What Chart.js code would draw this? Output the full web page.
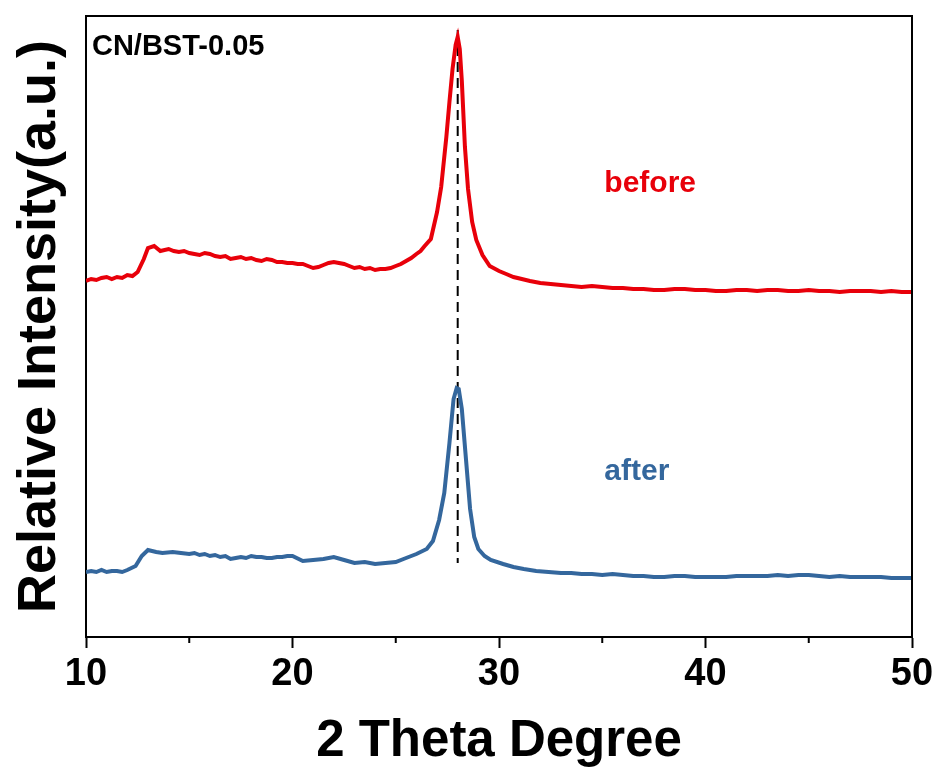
<!DOCTYPE html>
<html>
<head>
<meta charset="utf-8">
<script src="https://cdn.jsdelivr.net/npm/chart.js@4.4.0/dist/chart.umd.min.js"></script>
<style>
  body { margin: 0; background: #fff; }
  #wrap { width: 940px; height: 778px; }
</style>
</head>
<body>
<div id="wrap"><canvas id="xrd" width="940" height="778"></canvas></div>
<script>
// 2 theta positions + relative intensity
const beforeX = [10, 10.25, 10.5, 10.75, 11, 11.25, 11.5, 11.75, 12, 12.25, 12.5, 12.8, 13.0, 13.3, 13.6, 14, 14.25, 14.5, 14.75, 15, 15.25, 15.5, 15.75, 16, 16.25, 16.5, 16.75, 17, 17.25, 17.5, 17.75, 18, 18.25, 18.5, 18.75, 19, 19.25, 19.5, 19.75, 20, 20.25, 20.5, 20.75, 21, 21.25, 21.5, 21.75, 22, 22.25, 22.5, 22.75, 23, 23.25, 23.5, 23.75, 24, 24.25, 24.5, 24.75, 25, 25.25, 25.5, 25.75, 26, 26.2, 26.4, 26.7, 27.0, 27.2, 27.45, 27.6, 27.75, 27.9, 28.0, 28.1, 28.2, 28.35, 28.5, 28.7, 28.9, 29.2, 29.55, 30, 30.35, 30.7, 31.1, 31.5, 32, 32.5, 33, 33.5, 34, 34.5, 35, 35.5, 36, 36.5, 37, 37.5, 38, 38.5, 39, 39.5, 40, 40.5, 41, 41.5, 42, 42.5, 43, 43.5, 44, 44.5, 45, 45.5, 46, 46.5, 47, 47.5, 48, 48.5, 49, 49.5, 50];
const beforeY = [356, 358, 357, 359, 360, 358, 360, 359, 362, 361, 365, 378, 389, 391, 386, 388, 386, 385, 386, 384, 383, 382, 384, 383, 381, 380, 381, 378, 379, 380, 378, 379, 377, 376, 378, 377, 375, 375, 374, 374, 373, 373, 371, 369, 370, 372, 374, 375, 374, 373, 371, 369, 370, 368, 369, 367, 368, 368, 369, 371, 373, 376, 379, 383, 386, 391, 398, 425, 450, 500, 535, 568, 592, 600, 588, 556, 490, 448, 415, 397, 382, 371, 366, 363, 360, 358, 356, 354, 353, 352, 351, 350, 351, 350, 349, 349, 348, 348, 347, 347, 348, 348, 347, 347, 346, 346, 347, 347, 346, 347, 347, 346, 346, 347, 346, 346, 345, 346, 346, 346, 345, 346, 345, 345];

const afterX = [10, 10.25, 10.5, 10.75, 11, 11.25, 11.5, 11.75, 12, 12.4, 12.7, 13.0, 13.4, 13.7, 14.2, 14.6, 15, 15.25, 15.5, 15.75, 16, 16.25, 16.5, 16.75, 17, 17.25, 17.5, 17.75, 18, 18.25, 18.5, 18.75, 19, 19.25, 19.5, 19.75, 20, 20.5, 21, 21.5, 22, 22.5, 23, 23.5, 24, 24.5, 25, 25.5, 26, 26.5, 26.8, 27.1, 27.35, 27.6, 27.8, 27.95, 28.05, 28.2, 28.4, 28.6, 28.8, 29.0, 29.3, 29.6, 30.2, 30.7, 31.2, 31.8, 32.4, 33, 33.5, 34, 34.5, 35, 35.5, 36, 36.5, 37, 37.5, 38, 38.5, 39, 39.5, 40, 40.5, 41, 41.5, 42, 42.5, 43, 43.5, 44, 44.5, 45, 45.5, 46, 46.5, 47, 47.5, 48, 48.5, 49, 49.5, 50];
const afterY = [65, 66, 65, 67, 65, 66, 66, 65, 67, 71, 81, 87, 85, 84, 85, 84, 83, 84, 82, 83, 81, 82, 80, 81, 78, 79, 80, 79, 81, 80, 80, 79, 79, 80, 80, 81, 81, 76, 77, 78, 80, 77, 74, 75, 73, 74, 75, 79, 83, 88, 96, 117, 144, 194, 238, 249, 248, 228, 178, 128, 100, 88, 81, 77, 73, 70, 68, 66, 65, 64, 64, 63, 63, 62, 63, 62, 61, 61, 60, 60, 61, 61, 60, 60, 60, 60, 61, 61, 61, 61, 62, 61, 62, 62, 61, 60, 61, 60, 60, 60, 60, 59, 59, 59];

// reference line at the main peak
const peakX = [28, 28];
const peakY = [607, 74];

const xTicks = [10, 20, 30, 40, 50];
const minorTicks = [15, 25, 35, 45];

function pts(xs, ys) {
    return xs.map((v, i) => ({ x: v, y: ys[i] }));
}

const FONT = "'Liberation Sans', Arial, sans-serif";

// top/right frame, minor ticks and the text labels
const extras = {
    id: 'extras',
    afterDraw(chart) {
        const ctx = chart.ctx;
        const a = chart.chartArea;
        const xs = chart.scales.x, ys = chart.scales.y;
        ctx.save();
        ctx.strokeStyle = '#000';
        ctx.lineWidth = 2;
        ctx.beginPath();
        ctx.moveTo(a.left, a.top);
        ctx.lineTo(a.right, a.top);
        ctx.lineTo(a.right, a.bottom);
        ctx.stroke();

        minorTicks.forEach(v => {
            const px = xs.getPixelForValue(v);
            ctx.beginPath();
            ctx.moveTo(px, a.bottom);
            ctx.lineTo(px, a.bottom + 6);
            ctx.stroke();
        });

        ctx.textBaseline = 'middle';
        ctx.textAlign = 'left';
        ctx.font = 'bold 29px ' + FONT;
        ctx.fillStyle = '#000';
        ctx.fillText('CN/BST-0.05', xs.getPixelForValue(10.29), ys.getPixelForValue(590));

        ctx.font = 'bold 30px ' + FONT;
        ctx.fillStyle = '#e8000a';
        ctx.fillText('before', xs.getPixelForValue(35.1), ys.getPixelForValue(453));
        ctx.fillStyle = '#34679d';
        ctx.fillText('after', xs.getPixelForValue(35.1), ys.getPixelForValue(165));
        ctx.restore();
    }
};

const ctx = document.getElementById('xrd').getContext('2d');
const chart = new Chart(ctx, {
    type: 'line',
    data: {
        datasets: [
            {
                label: 'before',
                data: pts(beforeX, beforeY),
                borderColor: '#e8000a',
                borderWidth: 4,
                pointRadius: 0,
                tension: 0
            },
            {
                label: 'after',
                data: pts(afterX, afterY),
                borderColor: '#34679d',
                borderWidth: 4,
                pointRadius: 0,
                tension: 0
            },
            {
                label: 'peak',
                data: pts(peakX, peakY),
                borderColor: '#000',
                borderWidth: 2,
                borderDash: [10, 6],
                pointRadius: 0
            }
        ]
    },
    options: {
        responsive: false,
        animation: false,
        layout: { padding: { top: 16, right: 28, left: 0, bottom: 0 } },
        plugins: {
            legend: { display: false },
            tooltip: { enabled: false }
        },
        scales: {
            x: {
                type: 'linear',
                min: 10,
                max: 50,
                afterFit: s => { s.height = 141; },
                afterBuildTicks: s => { s.ticks = xTicks.map(v => ({ value: v })); },
                ticks: {
                    color: '#000',
                    padding: 4,
                    font: { family: FONT, size: 38, weight: 'bold', lineHeight: 1.2 }
                },
                grid: {
                    drawOnChartArea: false,
                    tickLength: 11,
                    tickWidth: 2,
                    tickColor: '#000'
                },
                border: { color: '#000', width: 2 },
                title: {
                    display: true,
                    text: '2 Theta Degree',
                    color: '#000',
                    padding: { top: 0, bottom: 11 },
                    font: { family: FONT, size: 51, weight: 'bold', lineHeight: 1 }
                }
            },
            y: {
                min: 0,
                max: 621,
                afterFit: s => { s.width = 86; },
                ticks: { display: false },
                grid: { drawOnChartArea: false, drawTicks: false },
                border: { color: '#000', width: 2 },
                title: {
                    display: true,
                    text: 'Relative Intensity(a.u.)',
                    color: '#000',
                    padding: { top: 13, bottom: 0 },
                    font: { family: FONT, size: 54, weight: 'bold', lineHeight: 1 }
                }
            }
        }
    },
    plugins: [extras]
});
</script>
</body>
</html>
